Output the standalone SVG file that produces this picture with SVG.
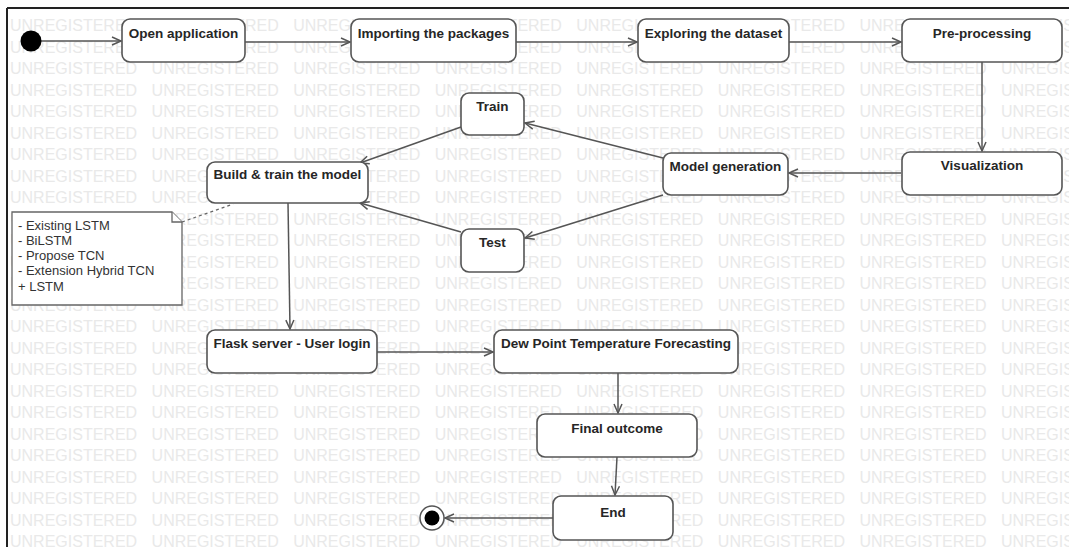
<svg xmlns="http://www.w3.org/2000/svg" width="1069" height="547" viewBox="0 0 1069 547">
<style>
.wm{font-family:"Liberation Sans",Arial,sans-serif;font-size:16px;fill:#e9e9e9;word-spacing:10px}
.box{fill:#ffffff;stroke:#555555;stroke-width:1.6}
.lbl{font-family:"Liberation Sans",Arial,sans-serif;font-size:13.5px;font-weight:bold;fill:#262626;text-anchor:middle}
.note{fill:#ffffff;stroke:#666666;stroke-width:1.3}
.ntxt{font-family:"Liberation Sans",Arial,sans-serif;font-size:13px;fill:#333333}
.edge{fill:none;stroke:#555555;stroke-width:1.5}
.dash{fill:none;stroke:#666666;stroke-width:1.3;stroke-dasharray:3 3}
</style>
<defs>
<marker id="arr" markerWidth="12" markerHeight="10" refX="10" refY="5" orient="auto" markerUnits="userSpaceOnUse">
<path d="M1,1 L10,5 L1,9" fill="none" stroke="#555555" stroke-width="1.5"/>
</marker>
</defs>
<rect x="0" y="0" width="1069" height="547" fill="#ffffff"/>
<g id="watermark">
<text class="wm" x="10" y="31">UNREGISTERED UNREGISTERED UNREGISTERED UNREGISTERED UNREGISTERED UNREGISTERED UNREGISTERED UNREGISTERED</text>
<text class="wm" x="10" y="52.5">UNREGISTERED UNREGISTERED UNREGISTERED UNREGISTERED UNREGISTERED UNREGISTERED UNREGISTERED UNREGISTERED</text>
<text class="wm" x="10" y="74">UNREGISTERED UNREGISTERED UNREGISTERED UNREGISTERED UNREGISTERED UNREGISTERED UNREGISTERED UNREGISTERED</text>
<text class="wm" x="10" y="95.5">UNREGISTERED UNREGISTERED UNREGISTERED UNREGISTERED UNREGISTERED UNREGISTERED UNREGISTERED UNREGISTERED</text>
<text class="wm" x="10" y="117">UNREGISTERED UNREGISTERED UNREGISTERED UNREGISTERED UNREGISTERED UNREGISTERED UNREGISTERED UNREGISTERED</text>
<text class="wm" x="10" y="138.5">UNREGISTERED UNREGISTERED UNREGISTERED UNREGISTERED UNREGISTERED UNREGISTERED UNREGISTERED UNREGISTERED</text>
<text class="wm" x="10" y="160">UNREGISTERED UNREGISTERED UNREGISTERED UNREGISTERED UNREGISTERED UNREGISTERED UNREGISTERED UNREGISTERED</text>
<text class="wm" x="10" y="181.5">UNREGISTERED UNREGISTERED UNREGISTERED UNREGISTERED UNREGISTERED UNREGISTERED UNREGISTERED UNREGISTERED</text>
<text class="wm" x="10" y="203">UNREGISTERED UNREGISTERED UNREGISTERED UNREGISTERED UNREGISTERED UNREGISTERED UNREGISTERED UNREGISTERED</text>
<text class="wm" x="10" y="224.5">UNREGISTERED UNREGISTERED UNREGISTERED UNREGISTERED UNREGISTERED UNREGISTERED UNREGISTERED UNREGISTERED</text>
<text class="wm" x="10" y="246">UNREGISTERED UNREGISTERED UNREGISTERED UNREGISTERED UNREGISTERED UNREGISTERED UNREGISTERED UNREGISTERED</text>
<text class="wm" x="10" y="267.5">UNREGISTERED UNREGISTERED UNREGISTERED UNREGISTERED UNREGISTERED UNREGISTERED UNREGISTERED UNREGISTERED</text>
<text class="wm" x="10" y="289">UNREGISTERED UNREGISTERED UNREGISTERED UNREGISTERED UNREGISTERED UNREGISTERED UNREGISTERED UNREGISTERED</text>
<text class="wm" x="10" y="310.5">UNREGISTERED UNREGISTERED UNREGISTERED UNREGISTERED UNREGISTERED UNREGISTERED UNREGISTERED UNREGISTERED</text>
<text class="wm" x="10" y="332">UNREGISTERED UNREGISTERED UNREGISTERED UNREGISTERED UNREGISTERED UNREGISTERED UNREGISTERED UNREGISTERED</text>
<text class="wm" x="10" y="353.5">UNREGISTERED UNREGISTERED UNREGISTERED UNREGISTERED UNREGISTERED UNREGISTERED UNREGISTERED UNREGISTERED</text>
<text class="wm" x="10" y="375">UNREGISTERED UNREGISTERED UNREGISTERED UNREGISTERED UNREGISTERED UNREGISTERED UNREGISTERED UNREGISTERED</text>
<text class="wm" x="10" y="396.5">UNREGISTERED UNREGISTERED UNREGISTERED UNREGISTERED UNREGISTERED UNREGISTERED UNREGISTERED UNREGISTERED</text>
<text class="wm" x="10" y="418">UNREGISTERED UNREGISTERED UNREGISTERED UNREGISTERED UNREGISTERED UNREGISTERED UNREGISTERED UNREGISTERED</text>
<text class="wm" x="10" y="439.5">UNREGISTERED UNREGISTERED UNREGISTERED UNREGISTERED UNREGISTERED UNREGISTERED UNREGISTERED UNREGISTERED</text>
<text class="wm" x="10" y="461">UNREGISTERED UNREGISTERED UNREGISTERED UNREGISTERED UNREGISTERED UNREGISTERED UNREGISTERED UNREGISTERED</text>
<text class="wm" x="10" y="482.5">UNREGISTERED UNREGISTERED UNREGISTERED UNREGISTERED UNREGISTERED UNREGISTERED UNREGISTERED UNREGISTERED</text>
<text class="wm" x="10" y="504">UNREGISTERED UNREGISTERED UNREGISTERED UNREGISTERED UNREGISTERED UNREGISTERED UNREGISTERED UNREGISTERED</text>
<text class="wm" x="10" y="525.5">UNREGISTERED UNREGISTERED UNREGISTERED UNREGISTERED UNREGISTERED UNREGISTERED UNREGISTERED UNREGISTERED</text>
<text class="wm" x="10" y="547">UNREGISTERED UNREGISTERED UNREGISTERED UNREGISTERED UNREGISTERED UNREGISTERED UNREGISTERED UNREGISTERED</text>
</g>
<g id="frame">
<line x1="7" y1="8" x2="1069" y2="8" stroke="#222222" stroke-width="2"/>
<line x1="7" y1="8" x2="7" y2="547" stroke="#222222" stroke-width="2"/>
</g>
<g id="connectors">
<line class="edge" x1="41" y1="41" x2="121" y2="41" marker-end="url(#arr)"/>
<line class="edge" x1="245" y1="42" x2="350" y2="42" marker-end="url(#arr)"/>
<line class="edge" x1="516" y1="42" x2="637" y2="42" marker-end="url(#arr)"/>
<line class="edge" x1="789" y1="42" x2="901" y2="42" marker-end="url(#arr)"/>
<line class="edge" x1="982" y1="62" x2="982" y2="151" marker-end="url(#arr)"/>
<line class="edge" x1="901" y1="173" x2="789" y2="173" marker-end="url(#arr)"/>
<line class="edge" x1="663" y1="158" x2="525" y2="123" marker-end="url(#arr)"/>
<line class="edge" x1="663" y1="195" x2="525" y2="238" marker-end="url(#arr)"/>
<line class="edge" x1="461" y1="127" x2="360" y2="163" marker-end="url(#arr)"/>
<line class="edge" x1="461" y1="232" x2="360" y2="203" marker-end="url(#arr)"/>
<line class="edge" x1="288" y1="203" x2="290" y2="329" marker-end="url(#arr)"/>
<line class="edge" x1="377" y1="352" x2="493" y2="352" marker-end="url(#arr)"/>
<line class="edge" x1="618" y1="373" x2="618" y2="413" marker-end="url(#arr)"/>
<line class="edge" x1="617" y1="457" x2="615" y2="495" marker-end="url(#arr)"/>
<line class="edge" x1="553" y1="518" x2="445" y2="518" marker-end="url(#arr)"/>
<line class="dash" x1="182" y1="222" x2="233" y2="204"/>
</g>
<g id="start"><circle cx="31" cy="41" r="10.5" fill="#000000"/></g>
<g id="open-application"><rect class="box" x="122" y="19" width="123" height="43" rx="8"/><text class="lbl" x="183.5" y="38">Open application</text></g>
<g id="importing-packages"><rect class="box" x="351" y="19" width="165" height="43" rx="8"/><text class="lbl" x="433.5" y="38">Importing the packages</text></g>
<g id="exploring-dataset"><rect class="box" x="638" y="19" width="151" height="43" rx="8"/><text class="lbl" x="713.5" y="38">Exploring the dataset</text></g>
<g id="pre-processing"><rect class="box" x="902" y="19" width="160" height="43" rx="8"/><text class="lbl" x="982" y="38">Pre-processing</text></g>
<g id="visualization"><rect class="box" x="902" y="152" width="160" height="43" rx="8"/><text class="lbl" x="982" y="170">Visualization</text></g>
<g id="model-generation"><rect class="box" x="663" y="153" width="125" height="42" rx="8"/><text class="lbl" x="725.5" y="171">Model generation</text></g>
<g id="train"><rect class="box" x="461" y="93" width="63" height="42" rx="8"/><text class="lbl" x="492.5" y="111">Train</text></g>
<g id="test"><rect class="box" x="461" y="229" width="63" height="43" rx="8"/><text class="lbl" x="492.5" y="247">Test</text></g>
<g id="build-train-model"><rect class="box" x="207" y="162" width="161" height="41" rx="8"/><text class="lbl" x="287.5" y="179">Build &amp; train the model</text></g>
<g id="model-note">
<path class="note" d="M12,212 L172,212 L182,222 L182,305 L12,305 Z"/>
<path class="note" d="M172,212 L172,222 L182,222"/>
<text class="ntxt" x="18" y="230">- Existing LSTM</text>
<text class="ntxt" x="18" y="245">- BiLSTM</text>
<text class="ntxt" x="18" y="260">- Propose TCN</text>
<text class="ntxt" x="18" y="275">- Extension Hybrid TCN</text>
<text class="ntxt" x="18" y="291">+ LSTM</text>
</g>
<g id="flask-server"><rect class="box" x="207" y="330" width="170" height="43" rx="8"/><text class="lbl" x="292" y="348">Flask server - User login</text></g>
<g id="dew-point"><rect class="box" x="494" y="330" width="244" height="43" rx="8"/><text class="lbl" x="616" y="348">Dew Point Temperature Forecasting</text></g>
<g id="final-outcome"><rect class="box" x="537" y="414" width="160" height="43" rx="8"/><text class="lbl" x="617" y="433">Final outcome</text></g>
<g id="end"><rect class="box" x="553" y="496" width="120" height="44" rx="8"/><text class="lbl" x="613" y="517">End</text></g>
<g id="final-state"><circle cx="432" cy="518" r="12" fill="#ffffff" stroke="#555555" stroke-width="1.5"/><circle cx="432" cy="518" r="7.5" fill="#000000"/></g>
</svg>
